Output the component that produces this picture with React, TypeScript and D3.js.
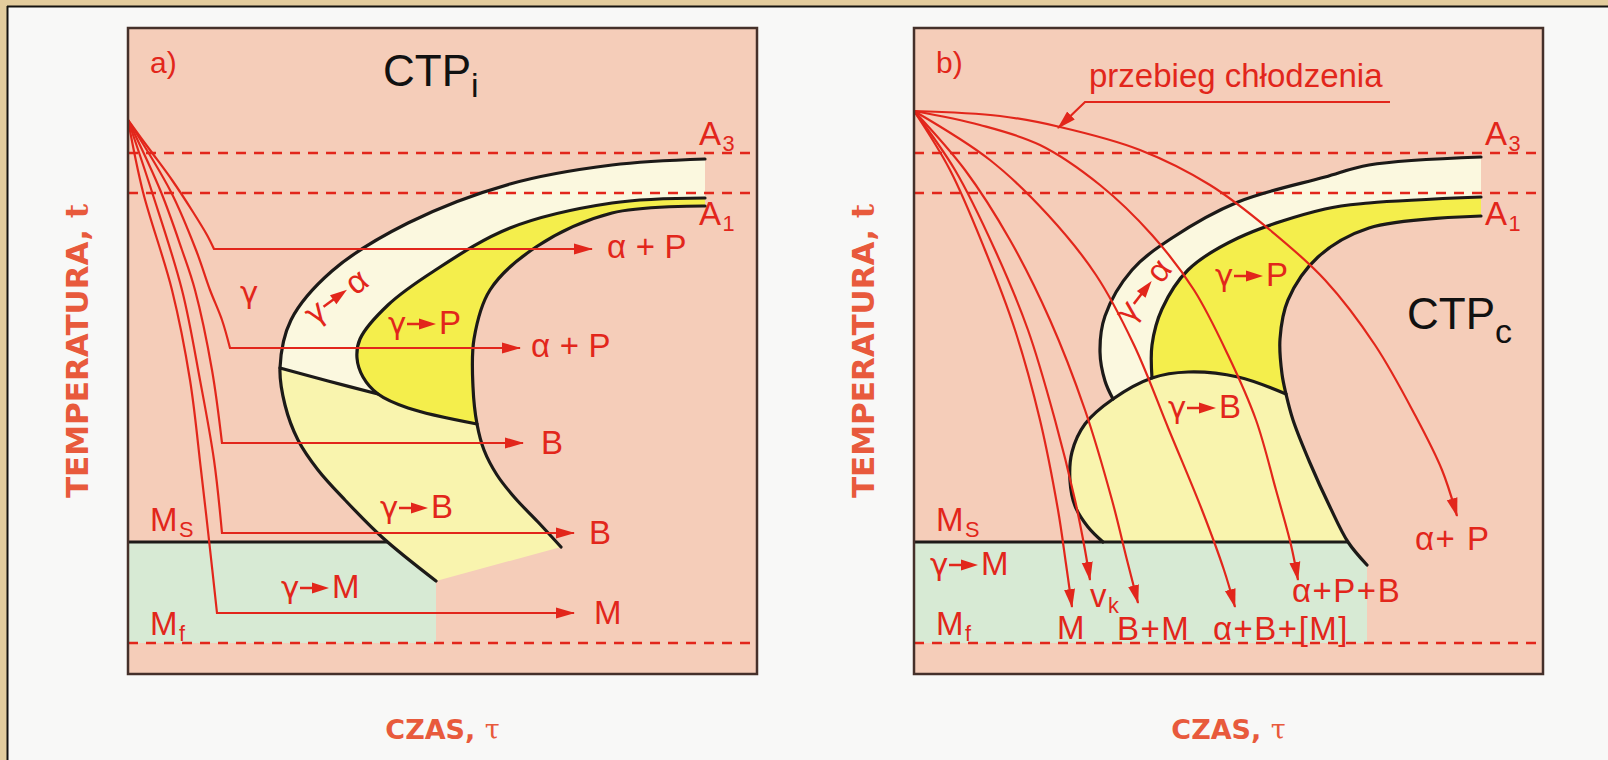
import React from 'react';
import * as d3 from 'd3';

type P = [number, number];

// osie w jednostkach umownych: czas 0..629, temperatura 0..646
const TIME_MAX = 629;
const TEMP_MAX = 646;

// poziomy charakterystyczne
const levelA3 = 521;
const levelA1 = 481;
const levelMs = 132;
const levelMf = 31;

// ---------- a) CTPi ----------
const ctpiCurves: P[][] = [
  [[0, 554], [22, 524], [44, 494], [65, 462], [79, 439], [86, 425]],
  [[0, 554], [43, 482], [68, 424], [82, 384], [94, 354], [102, 326]],
  [[0, 554], [33, 482], [54, 424], [67, 384], [84, 304], [94, 231]],
  [[0, 554], [24, 482], [54, 384], [72, 294], [86, 214], [94, 141]],
  [[0, 554], [15, 482], [44, 384], [62, 294], [73, 204], [81, 134], [89, 61]],
];
const ctpiArrowEnds = [464, 392, 395, 446, 446];
const ctpiProducts = ['α\u2009+\u2009P', 'α\u2009+\u2009P', 'B', 'B', 'M'];
const ctpiProductAt: P[] = [[479, 416], [403, 317], [413, 220], [461, 130], [466, 50]];

const ctpiOuterUpper: P[] = [[577, 515], [484, 509], [382, 490], [280, 451], [204, 403], [163, 354], [152, 306]];
const ctpiOuterLower: P[] = [[152, 306], [157, 269], [170, 234], [190, 204], [217, 174], [255, 136], [308, 93]];
const ctpiSecondUpper: P[] = [[577, 476], [484, 471], [382, 446], [306, 403], [260, 369], [232, 335], [229, 316], [235, 297], [250, 280]];
const ctpiSecondLower: P[] = [[250, 280], [280, 266], [349, 250]];
const ctpiThirdUpper: P[] = [[577, 468], [484, 461], [408, 427], [362, 384], [346, 335], [345, 287], [349, 250]];
const ctpiThirdLower: P[] = [[349, 250], [356, 224], [369, 199], [387, 176], [410, 152], [433, 127]];
const ctpiFerriteEnd: P[] = [[152, 306], [200, 293], [250, 280]];
const ctpiBainiteFoot: P[] = [[308, 93], [433, 127]];
const ctpiMartensite: P[] = [[0, 132], [260, 132], [308, 93], [308, 31], [0, 31]];
const ctpiMsEnd = 260;
const ctpiSteps = [
  { to: 'α', at: [186, 348] as P, angle: -36 },
  { to: 'P', at: [260, 340] as P, angle: 0 },
  { to: 'B', at: [252, 156] as P, angle: 0 },
  { to: 'M', at: [153, 76] as P, angle: 0 },
];

// ---------- b) CTPc ----------
const ctpcCurves: P[][] = [
  [[0, 563], [36, 504], [71, 424], [101, 344], [126, 254], [144, 164], [152, 110], [158, 67]],
  [[0, 563], [41, 504], [81, 424], [114, 344], [141, 254], [161, 174], [171, 124], [176, 94]],
  [[0, 563], [51, 504], [96, 434], [136, 354], [171, 264], [198, 174], [213, 114], [224, 71]],
  [[0, 563], [76, 514], [134, 459], [182, 399], [220, 329], [255, 244], [288, 164], [310, 104], [321, 67]],
  [[0, 563], [66, 549], [126, 529], [186, 489], [238, 439], [280, 384], [314, 319], [342, 254], [362, 184], [377, 129], [384, 94]],
  [[0, 563], [86, 558], [146, 547], [226, 524], [296, 489], [356, 444], [411, 394], [461, 329], [501, 259], [528, 204], [543, 158]],
];
const ctpcProducts = ['M', 'v', 'B+M', 'α+B+[M]', 'α+P+B', 'α+ P'];
const ctpcProductSub = ['', 'k', '', '', '', ''];
const ctpcProductAt: P[] = [[143, 35], [176, 67], [203, 34], [299, 34], [378, 72], [501, 124]];

const ctpcOuter: P[] = [[567, 517], [455, 509], [411, 497], [324, 472], [258, 436], [218, 404], [191, 358], [186, 322], [191, 293], [199, 275]];
const ctpcSecond: P[] = [[567, 477], [455, 471], [411, 465], [324, 436], [274, 404], [248, 365], [238, 329], [238, 296]];
const ctpcThirdUpper: P[] = [[567, 458], [455, 446], [404, 417], [374, 374], [366, 335], [368, 300], [372, 280]];
const ctpcThirdLower: P[] = [[372, 280], [379, 254], [396, 211], [416, 167], [434, 132], [453, 109]];
const ctpcBainiteLeft: P[] = [[189, 132], [174, 147], [161, 168], [156, 193], [158, 222], [171, 250], [199, 275], [238, 296]];
const ctpcBainiteTop: P[] = [[238, 296], [274, 302], [324, 297], [372, 280]];
const ctpcMartensite: P[] = [[0, 132], [434, 132], [453, 109], [453, 31], [0, 31]];
const ctpcMsEnd = 434;
const ctpcPointer: P[] = [[476, 572], [171, 572], [144, 546]];
const ctpcSteps = [
  { to: 'α', at: [216, 349] as P, angle: -52 },
  { to: 'P', at: [301, 388] as P, angle: 0 },
  { to: 'B', at: [254, 256] as P, angle: 0 },
  { to: 'M', at: [16, 99] as P, angle: 0 },
];

// ---------- wygląd ----------
const W = 1608;
const H = 760;
const BOX_TOP = 28;
const BOX_BOTTOM = 674;
const BOX_W = 629;
const RED = '#e2261b';
const TITLE = '#e85a3c';
const INK = '#1c1a18';
const C = { salmon: '#f5cdb9', green: '#d7ead4', cream: '#fbf8df', pale: '#f9f4ae', yellow: '#f4ee4c' };
const LABEL_FONT = '"Liberation Sans", Arial, sans-serif';
const GREEK_FONT = '"DejaVu Sans", sans-serif';
const TITLE_FONT = '"DejaVu Sans", sans-serif';

const rev = (a: P[]) => [...a].reverse();

function makeScales(x0: number) {
  const x = d3.scaleLinear().domain([0, TIME_MAX]).range([x0, x0 + BOX_W]);
  const y = d3.scaleLinear().domain([0, TEMP_MAX]).range([BOX_BOTTOM, BOX_TOP]);
  const smooth = d3.line<P>().x(d => x(d[0])).y(d => y(d[1])).curve(d3.curveCatmullRom.alpha(0.5));
  const straight = d3.line<P>().x(d => x(d[0])).y(d => y(d[1]));
  return { x, y, smooth, straight };
}

function chain(gen: (p: P[]) => string | null, segs: P[][], close = true) {
  return segs.map((s, i) => {
    const d = gen(s) || '';
    return i === 0 ? d : 'L' + d.slice(1);
  }).join('') + (close ? 'Z' : '');
}

function Sub({ x, y, main, sub, size = 33, fill = RED, anchor = 'start' }: any) {
  return (
    <text x={x} y={y} fontSize={size} fill={fill} fontFamily={LABEL_FONT} textAnchor={anchor} letterSpacing={1.5}>
      {main}
      {sub ? <tspan dy={6} fontSize={size * 0.66} letterSpacing={0}>{sub}</tspan> : null}
    </text>
  );
}

function Step({ x, y, angle, to }: any) {
  return (
    <g transform={`translate(${x},${y}) rotate(${angle})`} fill={RED}>
      <text x={0} y={0} fontSize={31} fontFamily={GREEK_FONT}>γ</text>
      <line x1={19} y1={-10} x2={33} y2={-10} stroke={RED} strokeWidth={2.5} />
      <path d="M31,-15.5 L48,-10 L31,-4.5 Z" />
      <text x={51} y={0} fontSize={33} fontFamily={LABEL_FONT}>{to}</text>
    </g>
  );
}

function Frame({ s, letter }: any) {
  const x0 = s.x(0);
  const dashed = [levelA3, levelA1, levelMf];
  return (
    <g>
      {dashed.map(t => (
        <line key={t} x1={x0} x2={s.x(TIME_MAX)} y1={s.y(t)} y2={s.y(t)}
          stroke={RED} strokeWidth={2.5} strokeDasharray="10 8" />
      ))}
      <Sub x={s.x(571)} y={s.y(529)} main="A" sub="3" />
      <Sub x={s.x(571)} y={s.y(449)} main="A" sub="1" />
      <Sub x={s.x(22)} y={s.y(143)} main="M" sub="S" />
      <Sub x={s.x(22)} y={s.y(39)} main="M" sub="f" />
      <text x={s.x(22)} y={s.y(601)} fontSize={30} fill={RED} fontFamily={LABEL_FONT}>{letter}</text>
    </g>
  );
}

function AxisTitles({ x0 }: any) {
  const cy = (BOX_TOP + BOX_BOTTOM) / 2;
  return (
    <g fill={TITLE} fontFamily={TITLE_FONT} fontWeight="bold">
      <text transform={`translate(${x0 - 40},${cy}) rotate(-90)`} textAnchor="middle" fontSize={31}>
        TEMPERATURA, <tspan fontFamily='"DejaVu Serif", serif'>t</tspan>
      </text>
      <text x={x0 + BOX_W / 2} y={739} textAnchor="middle" fontSize={27}>
        CZAS, <tspan fontFamily='"DejaVu Serif", serif' fontWeight="normal">τ</tspan>
      </text>
    </g>
  );
}

export default function App() {
  const sL = makeScales(128);
  const sR = makeScales(914);

  const iOuter = [...ctpiOuterUpper, ...ctpiOuterLower.slice(1)];
  const iSecond = [...ctpiSecondUpper, ...ctpiSecondLower.slice(1)];
  const iThird = [...ctpiThirdUpper, ...ctpiThirdLower.slice(1)];
  const cArc = [...ctpcBainiteLeft, ...ctpcBainiteTop.slice(1)];
  const cThird = [...ctpcThirdUpper, ...ctpcThirdLower.slice(1)];

  const black = { fill: 'none', stroke: INK, strokeWidth: 3.2, strokeLinecap: 'round' as const };
  const redLine = { fill: 'none', stroke: RED, strokeWidth: 2.2 };

  return (
    <svg width={W} height={H} style={{ position: 'absolute', left: 0, top: 0, display: 'block' }}>
      <defs>
        <marker id="tip" markerUnits="userSpaceOnUse" markerWidth={19} markerHeight={12}
          refX={18} refY={6} orient="auto">
          <path d="M0,0.5 L19,6 L0,11.5 Z" fill={RED} />
        </marker>
      </defs>

      <rect width={W} height={H} fill="#f8f8f7" />
      <rect width={W} height={7} fill="#e3cc9d" />
      <rect width={7} height={H} fill="#e3cc9d" />
      <line x1={7} x2={W} y1={6.5} y2={6.5} stroke="#141210" strokeWidth={2} />
      <line x1={7.5} x2={7.5} y1={6} y2={H} stroke="#141210" strokeWidth={2} />

      {/* ---------- a) ---------- */}
      <g>
        <rect x={sL.x(0)} y={BOX_TOP} width={BOX_W} height={BOX_BOTTOM - BOX_TOP} fill={C.salmon} />
        <path d={chain(sL.straight, [ctpiMartensite])} fill={C.green} />
        <path d={chain(sL.smooth, [iOuter, ctpiBainiteFoot, rev(iThird)])} fill={C.pale} />
        <path d={chain(sL.smooth, [ctpiOuterUpper, ctpiFerriteEnd, rev(ctpiSecondUpper)])} fill={C.cream} />
        <path d={chain(sL.smooth, [iSecond, rev(ctpiThirdUpper)])} fill={C.yellow} />
        <Frame s={sL} letter="a)" />
        <path d={sL.smooth(iOuter) || ''} {...black} />
        <path d={sL.smooth(iSecond) || ''} {...black} />
        <path d={sL.smooth(iThird) || ''} {...black} />
        <path d={sL.smooth(ctpiFerriteEnd) || ''} {...black} />
        <line x1={sL.x(0)} x2={sL.x(ctpiMsEnd)} y1={sL.y(levelMs)} y2={sL.y(levelMs)} stroke={INK} strokeWidth={3} />
        {ctpiCurves.map((c, i) => {
          const last = c[c.length - 1];
          return (
            <path key={i} {...redLine} markerEnd="url(#tip)"
              d={(sL.smooth(c) || '') + `L${sL.x(ctpiArrowEnds[i])},${sL.y(last[1])}`} />
          );
        })}
        {ctpiProducts.map((t, i) => (
          <Sub key={i} x={sL.x(ctpiProductAt[i][0])} y={sL.y(ctpiProductAt[i][1])} main={t} />
        ))}
        <text x={sL.x(112)} y={sL.y(371)} fontSize={31} fill={RED} fontFamily={GREEK_FONT}>γ</text>
        {ctpiSteps.map((st, i) => (
          <Step key={i} x={sL.x(st.at[0])} y={sL.y(st.at[1])} angle={st.angle} to={st.to} />
        ))}
        <text x={sL.x(255)} y={sL.y(588)} fontSize={44} fill="#111" fontFamily={LABEL_FONT}>
          CTP<tspan dy={11} fontSize={34}>i</tspan>
        </text>
        <rect x={sL.x(0)} y={BOX_TOP} width={BOX_W} height={BOX_BOTTOM - BOX_TOP} fill="none" stroke="#45302a" strokeWidth={2.5} />
        <AxisTitles x0={sL.x(0)} />
      </g>

      {/* ---------- b) ---------- */}
      <g>
        <rect x={sR.x(0)} y={BOX_TOP} width={BOX_W} height={BOX_BOTTOM - BOX_TOP} fill={C.salmon} />
        <path d={chain(sR.straight, [ctpcMartensite])} fill={C.green} />
        <path d={chain(sR.smooth, [ctpcOuter, rev(ctpcSecond)])} fill={C.cream} />
        <path d={chain(sR.smooth, [ctpcSecond, ctpcBainiteTop, rev(ctpcThirdUpper)])} fill={C.yellow} />
        <path d={chain(sR.smooth, [cArc, ctpcThirdLower.slice(0, 5)])} fill={C.pale} />
        <Frame s={sR} letter="b)" />
        <path d={sR.smooth(ctpcOuter) || ''} {...black} />
        <path d={sR.smooth(ctpcSecond) || ''} {...black} />
        <path d={sR.smooth(cThird) || ''} {...black} />
        <path d={sR.smooth(cArc) || ''} {...black} />
        <line x1={sR.x(0)} x2={sR.x(ctpcMsEnd)} y1={sR.y(levelMs)} y2={sR.y(levelMs)} stroke={INK} strokeWidth={3} />
        {ctpcCurves.map((c, i) => (
          <path key={i} {...redLine} markerEnd="url(#tip)" d={sR.smooth(c) || ''} />
        ))}
        <path d={sR.straight(ctpcPointer) || ''} {...redLine} markerEnd="url(#tip)" />
        <text x={sR.x(175)} y={sR.y(587)} fontSize={33} fill={RED} fontFamily={LABEL_FONT}>przebieg chłodzenia</text>
        {ctpcProducts.map((t, i) => (
          <Sub key={i} x={sR.x(ctpcProductAt[i][0])} y={sR.y(ctpcProductAt[i][1])} main={t} sub={ctpcProductSub[i]} />
        ))}
        {ctpcSteps.map((st, i) => (
          <Step key={i} x={sR.x(st.at[0])} y={sR.y(st.at[1])} angle={st.angle} to={st.to} />
        ))}
        <text x={sR.x(493)} y={sR.y(345)} fontSize={44} fill="#111" fontFamily={LABEL_FONT}>
          CTP<tspan dy={14} fontSize={34}>c</tspan>
        </text>
        <rect x={sR.x(0)} y={BOX_TOP} width={BOX_W} height={BOX_BOTTOM - BOX_TOP} fill="none" stroke="#45302a" strokeWidth={2.5} />
        <AxisTitles x0={sR.x(0)} />
      </g>
    </svg>
  );
}
